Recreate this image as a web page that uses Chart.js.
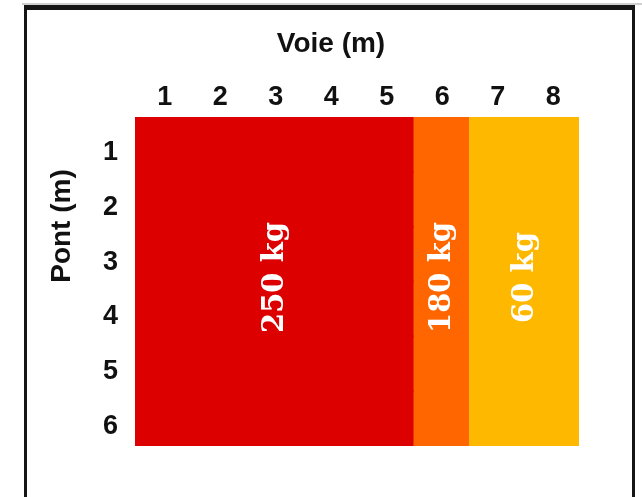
<!DOCTYPE html>
<html lang="fr">
<head>
    <meta charset="UTF-8" />
    <title>Voie / Pont</title>
    <style>
        html, body {
            margin: 0;
            padding: 0;
            background: #ffffff;
        }

        #page {
            position: relative;
            width: 642px;
            height: 497px;
            overflow: hidden;
        }

        #topline {
            position: absolute;
            left: 22px;
            top: 3px;
            width: 620px;
            height: 2px;
            background: #cfcfcf;
        }

        #frame {
            position: absolute;
            left: 24px;
            top: 5px;
            width: 605px;
            height: 500px;
            border-top: 5px solid #151515;
            border-left: 3px solid #151515;
            border-right: 3px solid #151515;
        }

        #chartBox {
            position: absolute;
            left: 0;
            top: 0;
            width: 642px;
            height: 497px;
        }
    </style>
    <script src="https://cdn.jsdelivr.net/npm/chart.js"></script>
</head>
<body>
    <div id="page">
        <div id="topline"></div>
        <div id="frame"></div>
        <div id="chartBox"><canvas id="loadChart"></canvas></div>
    </div>

    <script>
    // Voie (m) en colonnes, Pont (m) en lignes
    const voieLabels = ['1', '2', '3', '4', '5', '6', '7', '8'];
    const pontLabels = ['1', '2', '3', '4', '5', '6'];

    // zones de charge
    const loadLabels = ['250 kg', '180 kg', '60 kg'];
    const load250 = [5, 5, 5, 5, 5, 5]; // largeur en voies, par ligne
    const load180 = [1, 1, 1, 1, 1, 1];
    const load60 = [2, 2, 2, 2, 2, 2];
    const loadColors = ['#dc0000', '#ff6600', '#ffb800'];

    const tickFont = { family: '"Liberation Sans", Arial, sans-serif', size: 27, weight: 'bold' };
    const titleFont = 'bold 28px "Liberation Sans", Arial, sans-serif';
    const loadFont = 'bold 29px "DejaVu Serif", serif';

    // titres d'axes + étiquettes de charge
    const labelPlugin = {
        id: 'labels',
        afterDatasetsDraw(chart) {
            const ctx = chart.ctx;
            ctx.save();
            ctx.fillStyle = '#ffffff';
            ctx.font = loadFont;
            ctx.textAlign = 'center';
            ctx.textBaseline = 'middle';
            chart.data.datasets.forEach((ds, i) => {
                const bars = chart.getDatasetMeta(i).data;
                const first = bars[0], last = bars[bars.length - 1];
                const cx = (first.x + first.base) / 2 + 2;
                const cy = (first.y - first.height / 2 + last.y + last.height / 2) / 2 - 4;
                ctx.save();
                ctx.translate(cx, cy);
                ctx.rotate(-Math.PI / 2);
                ctx.fillText(loadLabels[i], 0, 0);
                ctx.restore();
            });
            ctx.restore();
        },
        afterDraw(chart) {
            const ctx = chart.ctx;
            ctx.save();
            ctx.fillStyle = '#111111';
            ctx.font = titleFont;
            ctx.textAlign = 'center';
            ctx.textBaseline = 'alphabetic';
            ctx.fillText('Voie (m)', 331, 52);
            ctx.translate(70, 226);
            ctx.rotate(-Math.PI / 2);
            ctx.fillText('Pont (m)', 0, 0);
            ctx.restore();
        }
    };

    new Chart(document.getElementById('loadChart'), {
        type: 'bar',
        data: {
            labels: pontLabels,
            datasets: [
                { label: loadLabels[0], data: load250, backgroundColor: loadColors[0] },
                { label: loadLabels[1], data: load180, backgroundColor: loadColors[1] },
                { label: loadLabels[2], data: load60, backgroundColor: loadColors[2] }
            ]
        },
        options: {
            indexAxis: 'y',
            responsive: true,
            maintainAspectRatio: false,
            animation: false,
            layout: { padding: { left: 0, top: 0, right: 63, bottom: 51 } },
            datasets: {
                bar: { barPercentage: 1, categoryPercentage: 1, borderWidth: 0, inflateAmount: 1 }
            },
            plugins: {
                legend: { display: false },
                tooltip: { enabled: false }
            },
            scales: {
                x: {
                    type: 'linear',
                    position: 'top',
                    stacked: true,
                    min: 0,
                    max: voieLabels.length,
                    grid: { display: false },
                    border: { display: false },
                    afterBuildTicks: s => { s.ticks = voieLabels.map((v, i) => ({ value: i + 0.5 })); },
                    afterFit: s => { s.height = 117; },
                    ticks: {
                        color: '#111111',
                        font: tickFont,
                        padding: -5,
                        labelOffset: 2,
                        maxRotation: 0,
                        autoSkip: false,
                        callback: (v, i) => voieLabels[i]
                    }
                },
                y: {
                    stacked: true,
                    grid: { display: false },
                    border: { display: false },
                    afterFit: s => { s.width = 135; },
                    ticks: {
                        color: '#111111',
                        font: tickFont,
                        padding: 9,
                        labelOffset: 8
                    }
                }
            }
        },
        plugins: [labelPlugin]
    });
    </script>
</body>
</html>
